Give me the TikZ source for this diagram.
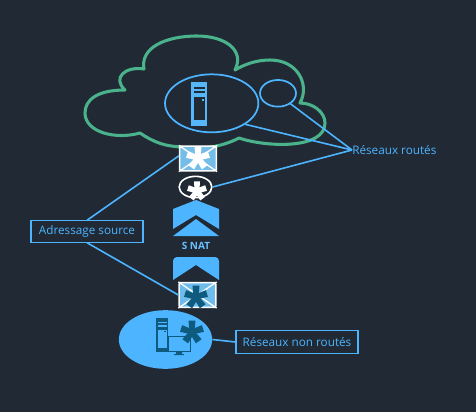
\documentclass[tikz,border=0pt]{standalone}
\usepackage{fontspec}
\setmainfont{Open Sans}
\usetikzlibrary{shapes.geometric}
\definecolor{fond}{HTML}{212934}
\definecolor{bleu}{HTML}{4DB5FF}
\definecolor{vert}{HTML}{4AB38C}
\definecolor{ciel}{HTML}{74BDE8}
\definecolor{encre}{HTML}{0F5B80}
\tikzset{lien/.style={draw=bleu,line width=1.2pt}}
\tikzset{cadre/.style={draw=bleu,line width=0.8pt,text=bleu,font=\fontsize{8.8}{11}\selectfont,inner sep=0pt,minimum height=16pt}}
\tikzset{rond/.style={ellipse,draw=bleu,line width=1.3pt,inner sep=0pt}}
\tikzset{lettre/.style={rectangle,draw=white,fill=#1,line width=1.2pt,rounded corners=1pt,minimum width=27.5pt,minimum height=18.5pt,inner sep=0pt}}
\newcommand{\etoile}[4]{\foreach \a in {90,162,234,306,18}
	{\fill[#4] (#1,#2) +(\a+90:1.9pt) -- +(\a+17:#3*0.75pt) -- +(\a-17:#3*0.75pt) -- +(\a-90:1.9pt) -- cycle;}}
\newcommand{\serveur}[5]{\begin{scope}[shift={(#1,#2)},scale=#3]
	\fill[#4] (0,0) rectangle (16,44);
	\fill[#5] (2.5,5) rectangle (13.5,7);
	\fill[#5] (2.5,8.5) rectangle (13.5,11);
	\fill[#5] (2.5,15) rectangle (13.5,38);
	\fill[#4] (10.5,16.5) rectangle (12.5,18.5);
	\end{scope}}
\begin{document}
\begin{tikzpicture}[x=0.75pt,y=-0.75pt]
	\fill[fond] (0,0) rectangle (476,412);
	\useasboundingbox (0,0) rectangle (476,412);
	% nuage
	\draw[vert,line width=2.3pt,line join=round] (125,90)
		.. controls (97,90) and (85,100) .. (85,113)
		.. controls (85,132) and (115,140) .. (140,133)
		.. controls (155,143) and (165,146) .. (181,147)
		.. controls (200,150) and (222,147) .. (239,138)
		.. controls (265,147) and (325,150) .. (325,123)
		.. controls (325,112) and (313,103) .. (300,103)
		.. controls (310,85) and (298,60) .. (270,60)
		.. controls (257,60) and (245,64) .. (235,70)
		.. controls (245,50) and (225,36) .. (197,36)
		.. controls (165,36) and (140,48) .. (144,69)
		.. controls (125,66) and (112,78) .. (125,90) -- cycle;
	% serveur du nuage
	\node[rond,minimum width=70pt,minimum height=43.5pt] (srvnuage) at (211.7,103.3) {};
	\serveur{191}{82}{1}{bleu!80!ciel}{fond}
	\node[rond,minimum width=27pt,minimum height=20pt] (autre) at (278,93.3) {};
	% chevrons
	\fill[bleu] (173,229) -- (173,209) -- (196,200) -- (219,209) -- (219,229) -- (196,215) -- cycle;
	\fill[bleu] (173,236) -- (196,219) -- (219,236) -- cycle;
	\node[text=bleu!85!white,font=\fontsize{7.5}{9}\selectfont\bfseries,inner sep=0pt] (snat) at (196,246) {S NAT};
	\fill[bleu] (173,280) -- (173,265) [rounded corners=3pt] -- (173,257) -- (219,257) [sharp corners] -- (219,280) -- (196,265) -- cycle;
	% message public
	\node[lettre=ciel] (envhaut) at (198,158.5) {};
	\draw[white,line width=1pt] (envhaut.north west) -- (envhaut.south east) (envhaut.north east) -- (envhaut.south west);
	\etoile{198}{158}{12}{white}
	\node[ellipse,draw=white,line width=1.2pt,inner sep=0pt,minimum width=24.5pt,minimum height=16pt] (rondblanc) at (195.5,187) {};
	\etoile{197}{191}{10}{white}
	% message prive
	\node[lettre=ciel!85!bleu] (envbas) at (197.5,295) {};
	\draw[white,line width=1pt] (envbas.north west) -- (envbas.south east) (envbas.north east) -- (envbas.south west);
	\etoile{196}{297}{12}{encre}
	% reseau prive
	\node[ellipse,fill=bleu,inner sep=0pt,minimum width=70pt,minimum height=44pt] (prive) at (165.5,339.5) {};
	\serveur{156}{318}{0.78}{encre}{bleu}
	\fill[encre] (168,336) rectangle (191,352);
	\fill[bleu] (169,337.2) rectangle (190,350.8);
	\fill[encre] (176,352) rectangle (182,354) (174,354) rectangle (184,355);
	\etoile{192}{332}{12}{encre}
	% etiquettes
	\node[cadre,minimum width=84pt] (source) at (87,231.5) {Adressage source};
	\node[cadre,minimum width=91.5pt,minimum height=17.5pt] (nonroutes) at (297,342) {Réseaux non routés};
	\node[text=bleu,font=\fontsize{8.8}{11}\selectfont,inner sep=0pt,anchor=west] (routes) at (352,150) {Réseaux routés};
	% liens
	\draw[lien] (srvnuage.-32) -- (routes.west);
	\draw[lien] (autre.-40) -- (routes.west);
	\draw[lien] (rondblanc.east) -- (routes.west);
	\draw[lien] (envhaut.172) -- (source.north);
	\draw[lien] (source.south) -- (envbas.west);
	\draw[lien] (prive.east) -- (nonroutes.west);
\end{tikzpicture}
\end{document}
